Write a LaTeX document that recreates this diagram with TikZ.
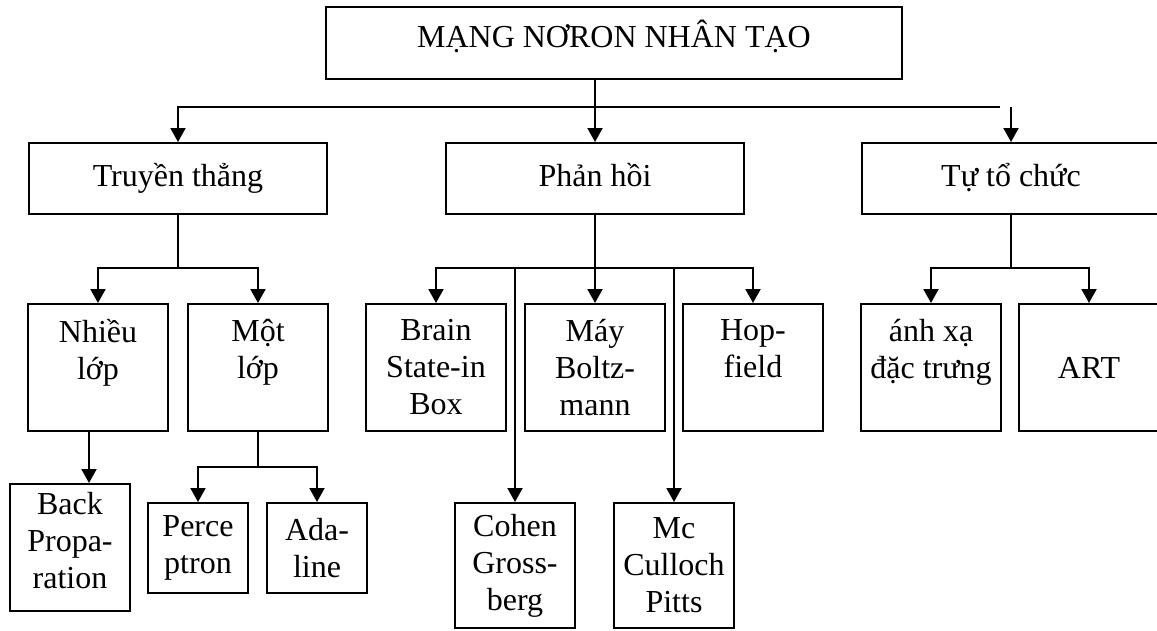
\documentclass[tikz,border=0pt]{standalone}
\usepackage{fontspec}
\setmainfont{Liberation Serif}
\usetikzlibrary{arrows.meta}

\begin{document}
\begin{tikzpicture}[x=1pt,y=-1pt,line width=2pt,
	khung/.style={draw,rectangle,inner sep=0pt,align=center,font=\fontsize{32}{37}\selectfont},
	dong/.style={khung,text height=23pt,text depth=7pt},
	muiten/.style={-{Triangle[width=15pt,length=14pt]}}]
			\useasboundingbox (0,0) rectangle (1157,630);
			\clip (0,0) rectangle (1157,630);

			\node[dong,text depth=15pt,minimum width=576pt,minimum height=72pt] (mang) at (614,43) {MẠNG NƠRON NHÂN TẠO};

			\node[dong,minimum width=298pt,minimum height=71pt] (truyen) at (178,178.5) {Truyền thẳng};
			\node[dong,minimum width=298pt,minimum height=71pt] (phanhoi) at (595,178.5) {Phản hồi};
			\node[dong,minimum width=298pt,minimum height=71pt] (tuto) at (1011,178.5) {Tự tổ chức};

			\node[khung,minimum width=140pt,minimum height=127pt] (nhieu) at (98,367.5) {Nhiều\\lớp\\\mbox{}};
			\node[khung,minimum width=140pt,minimum height=127pt] (mot) at (258,367.5) {Một\\lớp\\\mbox{}};
			\node[khung,minimum width=140pt,minimum height=127pt] (brain) at (436,367.5) {Brain\\State-in\\Box};
			\node[khung,minimum width=140pt,minimum height=127pt] (may) at (595,367.5) {Máy\\Boltz-\\mann};
			\node[khung,minimum width=140pt,minimum height=127pt] (hop) at (753,367.5) {Hop-\\field\\\mbox{}};
			\node[khung,minimum width=140pt,minimum height=127pt] (anhxa) at (931,367.5) {ánh xạ\\đặc trưng\\\mbox{}};
			\node[khung,minimum width=140pt,minimum height=127pt] (art) at (1089,367.5) {ART};

			\node[khung,text depth=15pt,minimum width=120pt,minimum height=127pt] (back) at (70,547.5) {Back\\Propa-\\ration};
			\node[khung,minimum width=100pt,minimum height=90pt] (perce) at (198,548) {Perce\\ptron};
			\node[khung,minimum width=100pt,minimum height=90pt] (ada) at (317,548) {Ada-\\line};
			\node[khung,minimum width=120pt,minimum height=125pt] (cohen) at (515,565.5) {Cohen\\Gross-\\berg};
			\node[khung,minimum width=120pt,minimum height=125pt] (mcc) at (674,565.5) {Mc\\Culloch\\Pitts};

			\coordinate (tang1) at (1000,107);
			\coordinate (tang2) at (0,268);
			\coordinate (tang3) at (0,467);

			\draw[muiten] (tang1) -| (truyen.north);
			\draw[muiten] ([xshift=-19pt]mang.south) -- (phanhoi.north);
			\draw[muiten] (tuto.north |- tang1) -- (tuto.north);

			\draw[muiten] (truyen.south) |- (nhieu.north |- tang2) -- (nhieu.north);
			\draw[muiten] (truyen.south |- tang2) -| (mot.north);

			\draw[muiten] (phanhoi.south) -- (may.north);
			\draw[muiten] (may.north |- tang2) -| (brain.north);
			\draw[muiten] (may.north |- tang2) -| (hop.north);
			\draw[muiten] (cohen.north |- tang2) -- (cohen.north);
			\draw[muiten] (mcc.north |- tang2) -- (mcc.north);

			\draw[muiten] (tuto.south) |- (anhxa.north |- tang2) -- (anhxa.north);
			\draw[muiten] (tuto.south |- tang2) -| (art.north);

			\draw[muiten] ([xshift=-9pt]nhieu.south) -- ([xshift=19pt]back.north);
			\draw[muiten] (mot.south) |- (perce.north |- tang3) -- (perce.north);
			\draw[muiten] (mot.south |- tang3) -| (ada.north);
		\end{tikzpicture}
\end{document}
